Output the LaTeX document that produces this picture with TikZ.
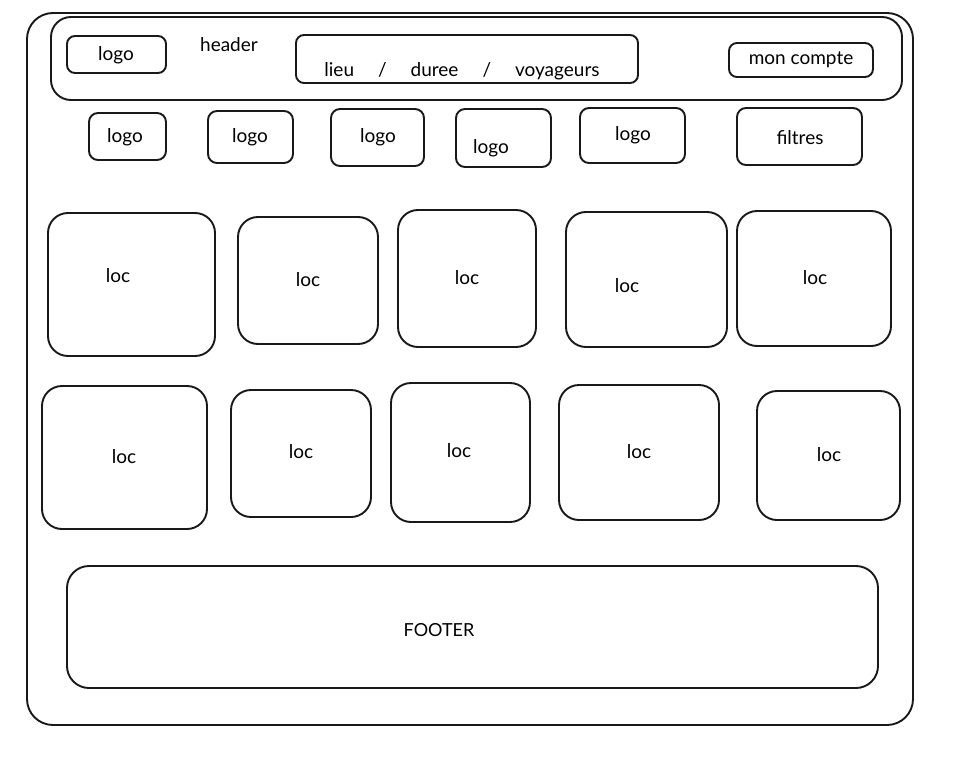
\documentclass[tikz,border=0pt]{standalone}
\usepackage{fontspec}
\setmainfont{Lato}
\usetikzlibrary{fit}
\tikzset{
  sbox/.style={draw=black!90, line width=1.9pt, inner sep=0pt, outer sep=0pt, rounded corners=#1},
  sbox/.default=10pt,
  txt/.style={inner sep=0pt, font=\fontsize{19}{22}\selectfont},
  smalltxt/.style={inner sep=0pt, font=\fontsize{18}{21}\selectfont},
}
\begin{document}
\begin{tikzpicture}[x=1pt,y=-1pt]
\useasboundingbox (0,0) rectangle (971,760);
% frame and header
\node[sbox=26pt, fit={(27,13)(913,725)}] (outer) {};
\node[sbox=20pt, fit={(51,17)(902,100)}] (header) {};
\node[sbox=8pt, fit={(67,36)(166,73)}] (hlogo) {};
\node[txt] (t-hlogo) at (116,55) {logo};
\node[txt] (t-header) at (229,45) {header};
\node[sbox=8pt, fit={(296,35)(638,83)}] (search) {};
\node[txt] (t-search) at (462,71) {lieu\hspace{24pt}/\hspace{24pt}duree\hspace{24pt}/\hspace{24pt}voyageurs};
\node[sbox=8pt, fit={(729,43)(873,77)}] (account) {};
\node[txt] (t-account) at (801,60) {mon compte};
% logo row
\node[sbox=9pt, fit={(89,113)(166,160)}] (l1) {};
\node[txt] (t-l1) at (125,137) {logo};
\node[sbox=9pt, fit={(208,111)(293,163)}] (l2) {};
\node[txt] (t-l2) at (250,137) {logo};
\node[sbox=9pt, fit={(331,109)(424,166)}] (l3) {};
\node[txt] (t-l3) at (378,137) {logo};
\node[sbox=9pt, fit={(456,109)(551,167)}] (l4) {};
\node[txt] (t-l4) at (491,148) {logo};
\node[sbox=9pt, fit={(580,108)(685,163)}] (l5) {};
\node[txt] (t-l5) at (633,135) {logo};
\node[sbox=9pt, fit={(737,108)(862,165)}] (filters) {};
\node[txt] (t-filters) at (800,138) {filtres};
% loc row 1
\node[sbox=20pt, fit={(48,213)(215,356)}] (a1) {};
\node[txt] (t-a1) at (118,276) {loc};
\node[sbox=20pt, fit={(238,217)(378,344)}] (a2) {};
\node[txt] (t-a2) at (308,280) {loc};
\node[sbox=20pt, fit={(398,210)(536,347)}] (a3) {};
\node[txt] (t-a3) at (467,278) {loc};
\node[sbox=20pt, fit={(566,212)(727,347)}] (a4) {};
\node[txt] (t-a4) at (627,286) {loc};
\node[sbox=20pt, fit={(737,211)(891,346)}] (a5) {};
\node[txt] (t-a5) at (815,278) {loc};
% loc row 2
\node[sbox=20pt, fit={(42,386)(207,529)}] (b1) {};
\node[txt] (t-b1) at (124,457) {loc};
\node[sbox=20pt, fit={(231,390)(371,517)}] (b2) {};
\node[txt] (t-b2) at (301,452) {loc};
\node[sbox=20pt, fit={(391,383)(530,522)}] (b3) {};
\node[txt] (t-b3) at (459,451) {loc};
\node[sbox=20pt, fit={(559,385)(719,520)}] (b4) {};
\node[txt] (t-b4) at (639,452) {loc};
\node[sbox=20pt, fit={(757,391)(900,520)}] (b5) {};
\node[txt] (t-b5) at (829,455) {loc};
% footer
\node[sbox=22pt, fit={(67,566)(878,688)}] (footer) {};
\node[smalltxt] (t-footer) at (439,630) {FOOTER};
\end{tikzpicture}
\end{document}
